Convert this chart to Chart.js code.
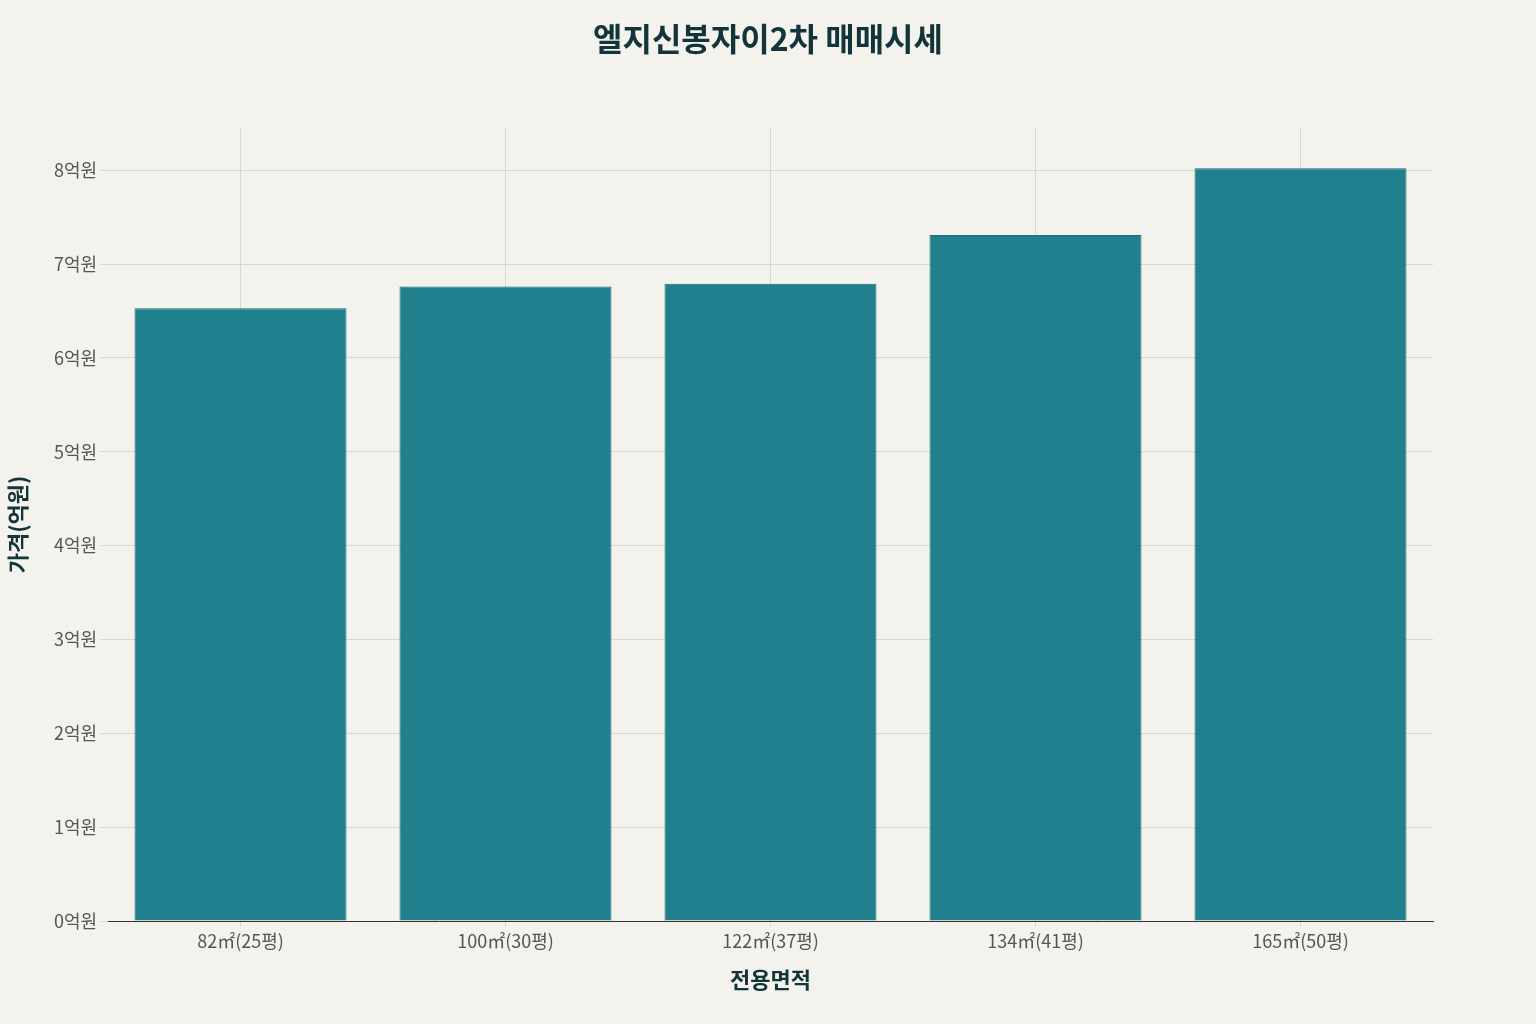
<!DOCTYPE html>
<html>
<head>
<meta charset="utf-8">
<script src="https://cdn.jsdelivr.net/npm/chart.js@4"></script>
<style>
html,body{margin:0;padding:0;background:#f3f2ec;}
#wrap{width:1536px;height:1024px;position:relative;}
h1{position:absolute;left:0;width:1536px;top:14px;margin:0;text-align:center;font-family:'Noto Sans CJK KR',sans-serif;font-size:32px;font-weight:bold;color:#13343b;}
</style>
</head>
<body>
<div id="wrap"><h1>엘지신봉자이2차 매매시세</h1><canvas id="c" width="1536" height="1024"></canvas></div>
<script>
// data
const categories=["82㎡(25평)","100㎡(30평)","122㎡(37평)","134㎡(41평)","165㎡(50평)"]
const prices=[6.53,6.76,6.79,7.31,8.02]

const font="'Noto Sans CJK KR', 'Noto Sans', sans-serif"
Chart.defaults.font.family=font

new Chart(document.getElementById("c"),{
type:"bar",
data:{
labels:categories,
datasets:[{
data:prices,
backgroundColor:"#21808d",
borderColor:"#1a6f7a",
borderWidth:1,
categoryPercentage:1,
barPercentage:0.8
}]
},
options:{
responsive:false,
animation:false,
layout:{padding:{left:0,right:103,top:128,bottom:27}},
plugins:{
legend:{display:false},
tooltip:{enabled:false}
},
scales:{
x:{
grid:{color:"#d8d8d2",offset:false,tickLength:6},
border:{color:"#333"},
ticks:{color:"#555",font:{size:18}},
title:{display:true,text:"전용면적",color:"#13343b",font:{size:22,weight:"bold"},padding:{top:12}}
},
y:{
min:0,max:8.45,
grid:{color:"#d8d8d2",tickLength:8},
border:{display:false},
afterFit:axis=>{axis.width=108},
afterBuildTicks:axis=>{axis.ticks=[0,1,2,3,4,5,6,7,8].map(v=>({value:v}))},
ticks:{color:"#555",font:{size:18},callback:v=>v+"억원"},
title:{display:true,text:"가격(억원)",color:"#13343b",font:{size:22,weight:"bold"}}
}
}
}
})
</script>
</body>
</html>
